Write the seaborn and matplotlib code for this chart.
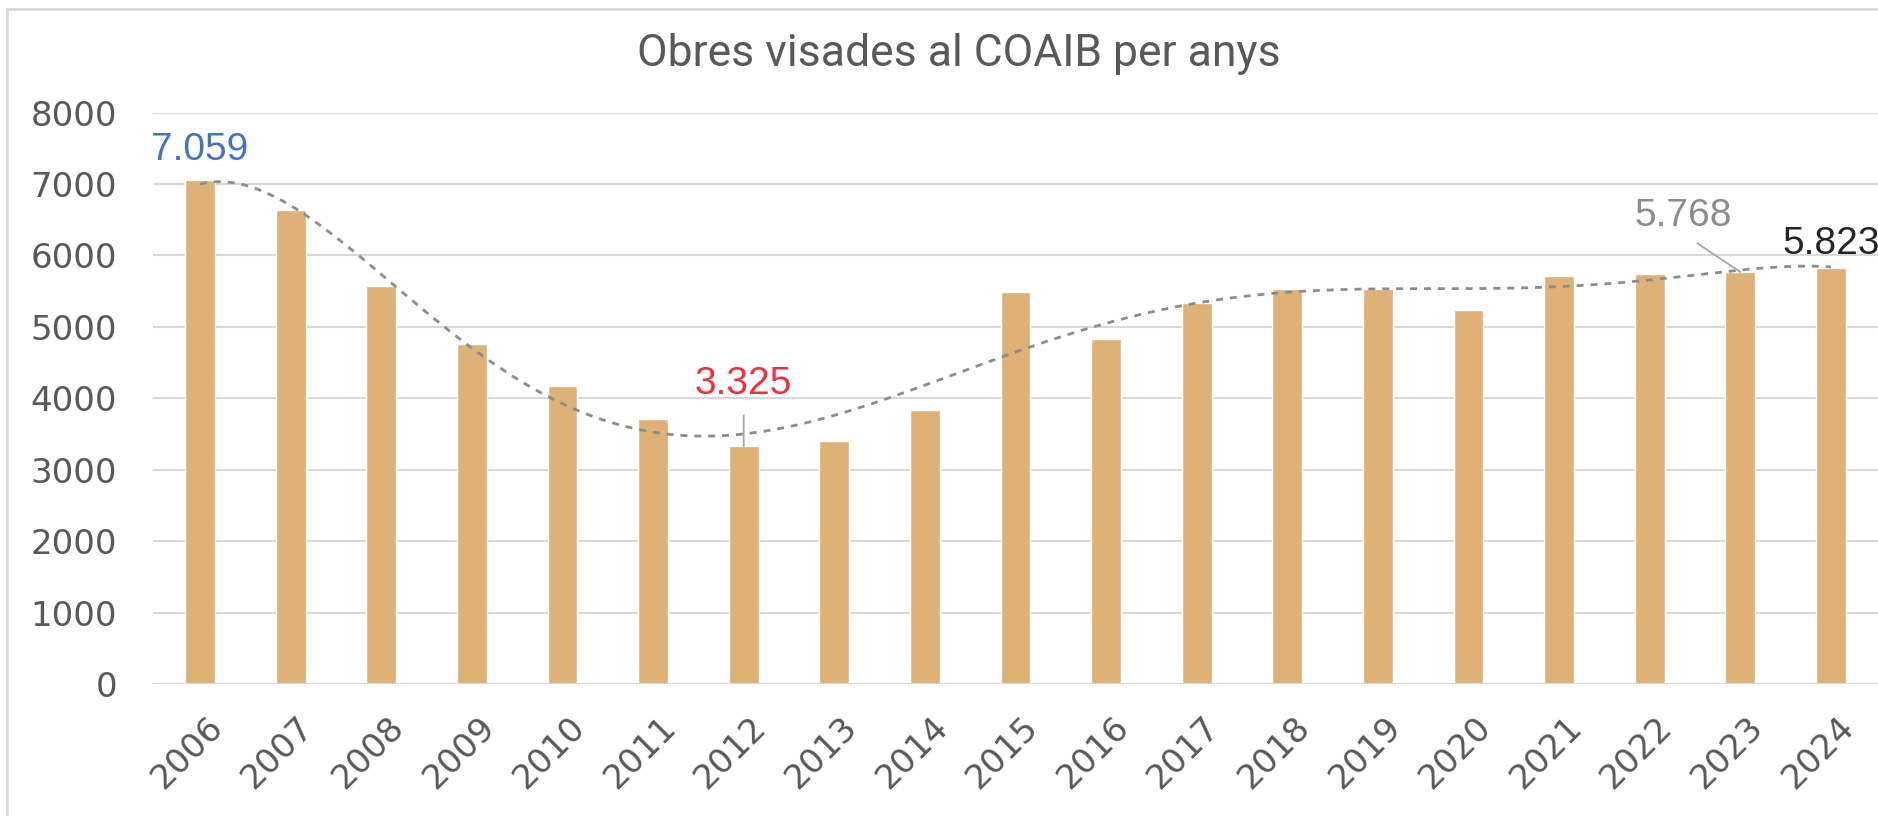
"""Obres visades al COAIB per anys."""

import matplotlib

matplotlib.use("Agg")

import matplotlib.pyplot as plt
import matplotlib.transforms as mtransforms
import numpy as np
import seaborn as sns
from matplotlib.lines import Line2D

years = [str(y) for y in range(2006, 2025)]
obres = [7059, 6630, 5570, 4765, 4175, 3705, 3325, 3395, 3830, 5490,
         4830, 5335, 5535, 5535, 5230, 5710, 5745, 5768, 5823]
yticks = [0, 1000, 2000, 3000, 4000, 5000, 6000, 7000, 8000]

W, H = 1878, 816
BAR = "#DEB177"
GRID = "#D9D9D9"
TXT = "#595959"

sns.set_style("white")
plt.rcParams["font.family"] = ["DejaVu Sans"]

fig = plt.figure(figsize=(W / 100, H / 100), dpi=100)
ax = fig.add_axes([153 / W, 1 - 684 / H, 1 - 153 / W, (684 - 112.5) / H])

sns.barplot(x=years, y=obres, color=BAR, saturation=1, width=0.33, ax=ax)

# 6th order polynomial trend, like the Excel trendline
idx = np.arange(1, len(obres) + 1)
coef = np.polyfit(idx, obres, 6)
xs = np.linspace(0, len(obres) - 1, 400)
ax.plot(xs, np.polyval(coef, xs + 1), color="#8C8C8C", lw=2,
        linestyle=(0, (2.5, 2.5)), zorder=3)

ax.set_xlim(-0.52, len(obres) - 0.48)
ax.set_ylim(0, 8000)
ax.set_yticks(yticks)
ax.yaxis.grid(True, color=GRID, lw=1.5)
ax.set_axisbelow(True)
sns.despine(ax=ax, left=True, bottom=True)
ax.axhline(0, color=GRID, lw=1.5, zorder=1)
ax.tick_params(axis="both", length=0, labelsize=24.5, labelcolor=TXT)
ax.tick_params(axis="y", pad=26)
ax.tick_params(axis="x", pad=19)
ax.set_xlabel("")
ax.set_ylabel("")
shift = mtransforms.ScaledTranslation(-13 / 100, 0, fig.dpi_scale_trans)
for lab in ax.get_xticklabels():
    lab.set_rotation(45)
    lab.set_ha("center")
    lab.set_transform(lab.get_transform() + shift)

# data labels
lab_font = dict(family="Liberation Sans", fontsize=28, ha="center", va="center")
ax.annotate("7.059", xy=(0, obres[0]), xytext=(0, 30), textcoords="offset pixels",
            color="#4472C4", **lab_font)
ax.annotate("3.325", xy=(6, obres[6]), xytext=(0, 62), textcoords="offset pixels",
            color="#F0303C",
            arrowprops=dict(arrowstyle="-", color="#A6A6A6", lw=1.3, shrinkA=7,
                            shrinkB=0, relpos=(0.5, 0)),
            **lab_font)
ax.annotate("5.768", xy=(17, obres[17]), xytext=(-57, 56), textcoords="offset pixels",
            color="#8C8C8C",
            arrowprops=dict(arrowstyle="-", color="#A6A6A6", lw=1.3, shrinkA=8,
                            shrinkB=0, relpos=(0.5, 0)),
            **lab_font)
ax.annotate("5.823", xy=(18, obres[18]), xytext=(0, 24), textcoords="offset pixels",
            color="#262626", **lab_font)

fig.text(959 / W, 1 - 54 / H, "Obres visades al COAIB per anys", ha="center",
         va="center", fontsize=32, color=TXT, family="Roboto")

# chart frame (left and top edges visible)
fig.add_artist(Line2D([7 / W, 7 / W], [0, 1 - 9 / H], transform=fig.transFigure,
                      color=GRID, lw=2))
fig.add_artist(Line2D([7 / W, 1], [1 - 9 / H, 1 - 9 / H], transform=fig.transFigure,
                      color=GRID, lw=2))

fig.savefig("out.png", dpi=100)
